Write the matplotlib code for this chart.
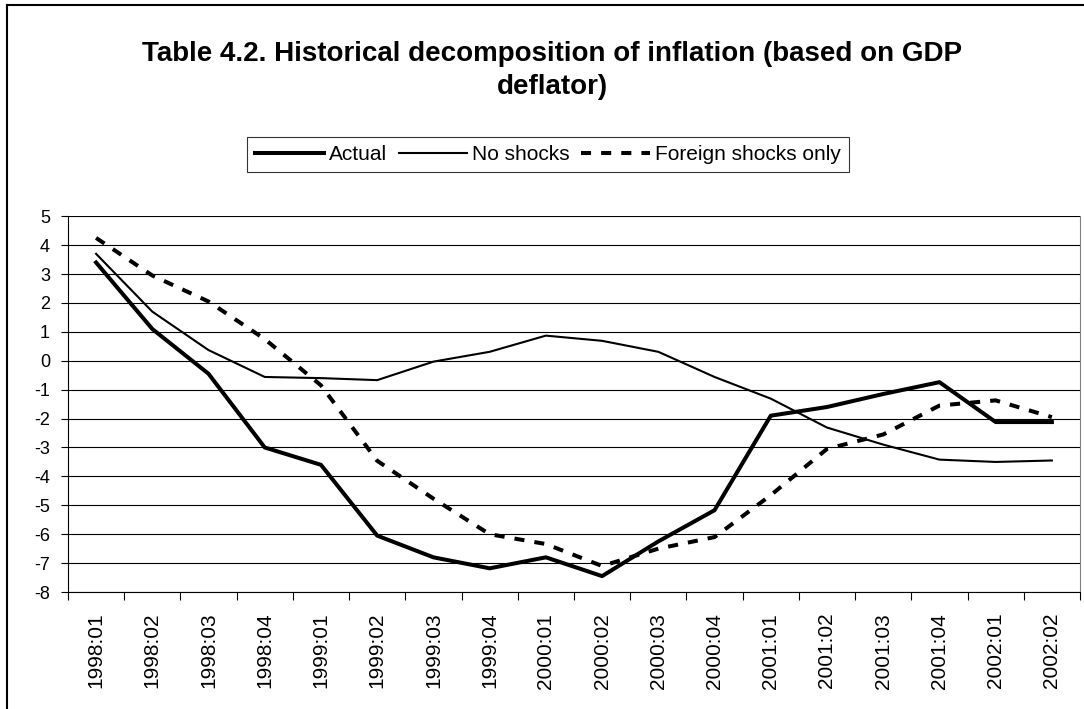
import matplotlib
matplotlib.use('Agg')
import matplotlib.pyplot as plt
from matplotlib.lines import Line2D
import numpy as np

quarters = ['1998:01', '1998:02', '1998:03', '1998:04',
            '1999:01', '1999:02', '1999:03', '1999:04',
            '2000:01', '2000:02', '2000:03', '2000:04',
            '2001:01', '2001:02', '2001:03', '2001:04',
            '2002:01', '2002:02']

actual = [3.4, 1.1, -0.45, -3.0, -3.6, -6.05, -6.8, -7.18, -6.8, -7.45,
          -6.25, -5.17, -1.9, -1.6, -1.15, -0.74, -2.12, -2.12]
no_shocks = [3.7, 1.7, 0.37, -0.56, -0.6, -0.67, -0.03, 0.31, 0.87, 0.69,
             0.31, -0.56, -1.31, -2.31, -2.9, -3.42, -3.5, -3.45]
foreign_only = [4.25, 2.95, 2.05, 0.75, -0.85, -3.46, -4.77, -6.0, -6.34, -7.1,
                -6.5, -6.1, -4.65, -3.05, -2.55, -1.55, -1.37, -1.95]

plt.rcParams['font.family'] = ['Liberation Sans', 'DejaVu Sans']
plt.rcParams['axes.unicode_minus'] = False

fig = plt.figure(figsize=(10.84, 7.09), dpi=100)
ax = fig.add_axes([0.0627, 0.165, 0.9336, 0.530])

x = np.arange(len(quarters))
ax.plot(x, actual, color='black', lw=2.9, label='Actual', zorder=4)
ax.plot(x, no_shocks, color='black', lw=1.5, label='No shocks', zorder=3)
ax.plot(x, foreign_only, color='black', lw=2.9, linestyle=(0, (2.5, 2.5)),
        label='Foreign shocks only', zorder=3)

ax.set_xlim(-0.5, len(quarters) - 0.5)
ax.set_ylim(-8, 5)
ax.set_yticks(range(-8, 6))
ax.yaxis.grid(True, color='black', lw=0.8)
ax.set_axisbelow(True)

ax.set_xticks(x)
ax.set_xticklabels(quarters, rotation=90, fontsize=15)
ax.set_xticks(np.arange(-0.5, len(quarters)), minor=True)
ax.tick_params(axis='x', which='major', length=0, pad=15)
ax.tick_params(axis='x', which='minor', length=6, width=0.8, direction='out')
ax.tick_params(axis='y', length=5, width=0.8, labelsize=13, pad=8)

ax.spines['top'].set_visible(False)
ax.spines['right'].set_color('#808080')
ax.spines['left'].set_linewidth(0.8)
ax.spines['bottom'].set_linewidth(0.8)

fig.text(0.5097, 1 - 60.7 / 709, 'Table 4.2. Historical decomposition of inflation (based on GDP',
         ha='center', va='baseline', fontsize=20, fontweight='bold')
fig.text(0.5097, 1 - 94 / 709, 'deflator)',
         ha='center', va='baseline', fontsize=20, fontweight='bold')

leg = fig.legend(loc='center', bbox_to_anchor=(548 / 1084, 1 - 154.5 / 709), ncol=3, fontsize=15,
                 frameon=True, fancybox=False, edgecolor='black', handlelength=3.3,
                 handletextpad=0.23, columnspacing=0.55, borderpad=0.4)
leg.get_frame().set_linewidth(0.8)

# outer chart frame
fig.add_artist(Line2D([0.0065, 0.0065], [0, 0.9935], color='black', lw=1.5, transform=fig.transFigure))
fig.add_artist(Line2D([0.0065, 1.0], [0.9935, 0.9935], color='black', lw=1.5, transform=fig.transFigure))

fig.savefig('out.png', dpi=100)
